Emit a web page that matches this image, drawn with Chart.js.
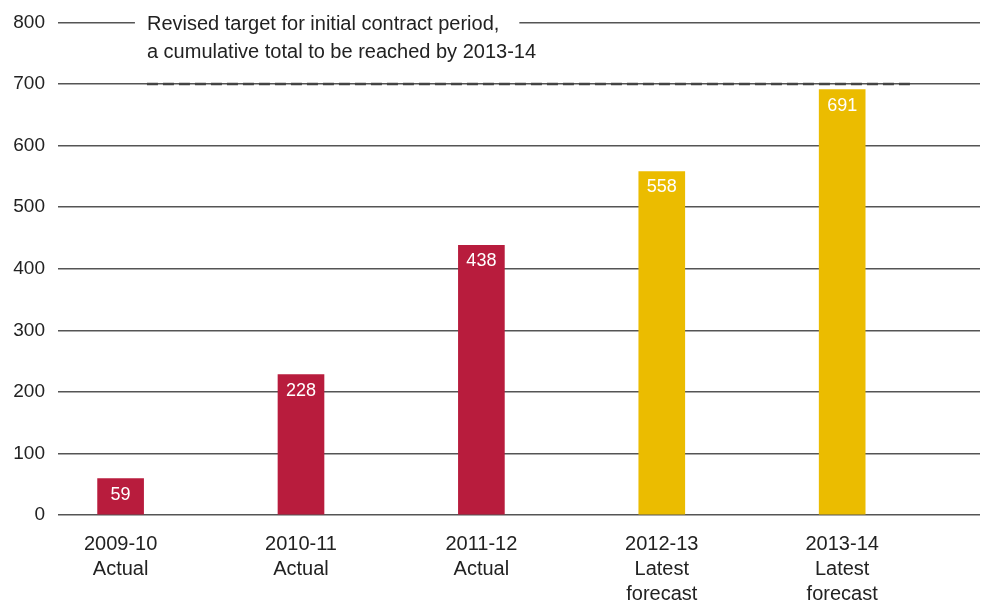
<!DOCTYPE html>
<html>
<head>
<meta charset="utf-8">
<script src="https://cdn.jsdelivr.net/npm/chart.js@4/dist/chart.umd.min.js"></script>
<style>
  html, body { margin: 0; padding: 0; background: #fff; }
  #wrap { width: 996px; height: 605px; }
</style>
</head>
<body>
<div id="wrap"><canvas id="myBarChart"></canvas></div>
<script>
const years = ['2009-10', '2010-11', '2011-12', '2012-13', '2013-14'];
const status = [['Actual'], ['Actual'], ['Actual'], ['Latest', 'forecast'], ['Latest', 'forecast']];
const values = [59, 228, 438, 558, 691];
const target = 700;
const targetNote = ['Revised target for initial contract period,', 'a cumulative total to be reached by 2013-14'];

const RED = '#B81C3D', GOLD = '#EBBC00';
const FONT = "'Liberation Sans', Arial, sans-serif";

const barra = document.getElementById('myBarChart').getContext('2d');

// etiquetas blancas dentro de cada barra + nota del objetivo
const labelsPlugin = {
  id: 'labelsPlugin',
  afterDatasetsDraw(chart) {
    const ctx = chart.ctx;
    const meta = chart.getDatasetMeta(1);
    ctx.save();
    ctx.fillStyle = '#fff';
    ctx.font = '18px ' + FONT;
    ctx.textAlign = 'center';
    ctx.textBaseline = 'middle';
    meta.data.forEach((bar, i) => {
      ctx.fillText(String(values[i]), bar.x, bar.y + 16);
    });

    // nota sobre la linea de 800
    const xs = chart.scales.x, ys = chart.scales.y;
    const left = xs.getPixelForValue(0.146);
    const top = ys.getPixelForValue(800);
    ctx.font = '20px ' + FONT;
    ctx.textAlign = 'left';
    const w = ctx.measureText(targetNote[0]).width;
    ctx.fillStyle = '#fff';
    ctx.fillRect(left - 12, top - 4, w + 32, 8);
    ctx.fillStyle = '#222';
    targetNote.forEach((t, i) => ctx.fillText(t, left, top + 2 + i * 28));
    ctx.restore();
  }
};

const graficaBar = new Chart(barra, {
  type: 'bar',
  data: {
    datasets: [{
      type: 'line',
      data: [{x: 0.146, y: target}, {x: 4.376, y: target}],
      borderColor: '#444',
      borderWidth: 2.5,
      borderDash: [11, 5],
      pointRadius: 0,
      order: 0
    }, {
      label: 'Total',
      data: values.map((v, i) => ({x: i, y: v})),
      backgroundColor: status.map(s => s[0] === 'Actual' ? RED : GOLD),
      barThickness: 46,
      order: 1
    }]
  },
  options: {
    responsive: true,
    maintainAspectRatio: false,
    animation: false,
    layout: { padding: { top: 22, right: 16, left: 0, bottom: 0 } },
    plugins: {
      legend: { display: false },
      tooltip: { enabled: false }
    },
    scales: {
      x: {
        type: 'linear',
        offset: false,
        min: -0.347,
        max: 4.764,
        grid: { display: false },
        border: { display: false },
        afterBuildTicks: (scale) => { scale.ticks = years.map((y, i) => ({ value: i })); },
        afterFit: (scale) => { scale.height = 90; },
        ticks: {
          autoSkip: false,
          maxRotation: 0,
          padding: 9,
          color: '#222',
          font: { family: FONT, size: 20, lineHeight: 1.25 },
          callback: (v) => [years[v]].concat(status[v])
        }
      },
      y: {
        min: 0,
        max: 800,
        grid: { color: '#555', lineWidth: 1.5, drawTicks: false },
        border: { display: false },
        afterFit: (scale) => { scale.width = 58; },
        ticks: {
          stepSize: 100,
          padding: 13,
          color: '#222',
          font: { family: FONT, size: 19, lineHeight: 1 }
        }
      }
    }
  },
  plugins: [labelsPlugin]
});
</script>
</body>
</html>
